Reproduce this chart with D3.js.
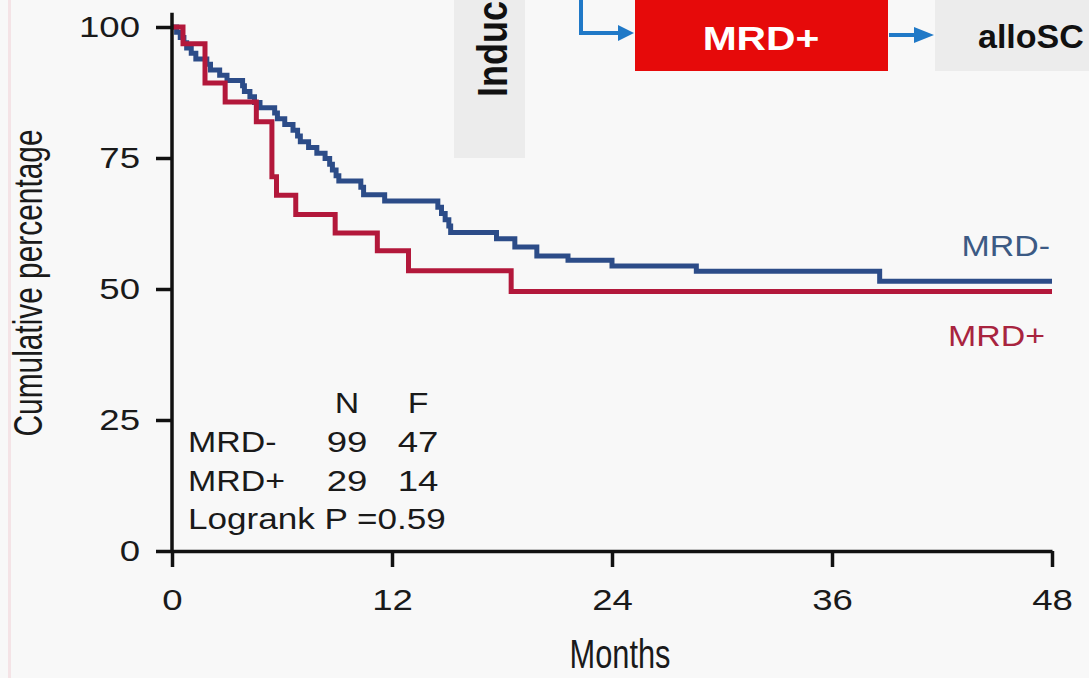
<!DOCTYPE html>
<html>
<head>
    <meta charset="utf-8">
    <script type="text/javascript" src="https://d3js.org/d3.v7.min.js"></script>
    <style>
body {
	margin: 0;
	background: #f8f8f8;
}

svg {
	display: block;
	font-family: "Liberation Sans", Arial, Helvetica, sans-serif;
}

.axis path, .axis line {
	stroke: #111;
	stroke-width: 3.5;
	fill: none;
}

.axis text {
	fill: #1a1a1a;
	font-size: 30px;
	font-family: "Liberation Sans", Arial, sans-serif;
}

.curve {
	fill: none;
	stroke-width: 5;
	stroke-linejoin: miter;
}
    </style>
</head>
<body>
	<svg class="kmGraph" width="1089" height="678"></svg>

    <script type="text/javascript">

	// survival curves (months, percent)
	var mrdNegTimes = [0, 0.25, 0.45, 0.65, 0.8, 1.05, 1.3, 1.9, 2.1, 2.6, 3.0, 3.85, 3.95, 4.25, 4.5, 4.8,
		5.6, 5.75, 6.15, 6.6, 6.85, 7.0, 7.45, 7.9, 8.35, 8.6, 8.75, 8.95, 9.1, 10.3, 10.45, 11.6,
		14.5, 14.7, 14.9, 15.1, 15.2, 17.7, 18.7, 19.9, 21.6, 24.0, 28.6, 38.6, 48];
	var mrdNegValues = [100, 99.0, 98.0, 97.0, 96.0, 95.0, 93.9, 92.9, 91.8, 90.8, 89.8, 88.8, 87.7, 86.7, 85.6, 84.6,
		83.6, 82.5, 81.4, 80.3, 79.2, 78.1, 77.0, 75.9, 74.9, 73.8, 72.7, 71.6, 70.6, 69.4, 68.0, 66.8,
		65.6, 64.4, 63.2, 62.0, 60.8, 59.6, 58.0, 56.3, 55.5, 54.4, 53.4, 51.5, 51.5];

	var mrdPosTimes = [0, 0.6, 1.8, 2.9, 4.6, 5.45, 5.7, 6.75, 8.9, 11.2, 12.9, 18.5, 48];
	var mrdPosValues = [100, 96.8, 89.3, 85.7, 81.9, 71.4, 67.9, 64.2, 60.7, 57.3, 53.5, 49.5, 49.5];

	var xTicks = [0, 12, 24, 36, 48];
	var yTicks = [0, 25, 50, 75, 100];

	var groups = ["MRD-", "MRD+"];
	var nCounts = [99, 29];
	var fCounts = [47, 14];
	var pValue = "0.59";

	var colors = {"MRD-": "#2c4c88", "MRD+": "#b3183b"};
	var labelColors = {"MRD-": "#3c5a84", "MRD+": "#a8243f"};

	var SX = 1.13;     // the frame looks stretched sideways
	var SX_TICK = 1.22;

	var svg = d3.select(".kmGraph");

	svg.append("rect").attr("width", 1089).attr("height", 678).attr("fill", "#f8f8f8");
	svg.append("rect").attr("x", 8).attr("y", 0).attr("width", 3).attr("height", 678).attr("fill", "#f4e3e6");

	function addText(parent, x, y, str, size, anchor, color, weight, sx) {
		return parent.append("text")
			.attr("transform", "translate(" + x + "," + y + ") scale(" + (sx || SX) + ",1)")
			.attr("text-anchor", anchor || "start")
			.attr("font-size", size)
			.attr("font-weight", weight || "normal")
			.attr("fill", color || "#1a1a1a")
			.text(str);
	}

	// pieces of the slide diagram that sit over the plot
	var deco = svg.append("g");
	deco.append("rect").attr("x", 454).attr("y", -5).attr("width", 71).attr("height", 163).attr("fill", "#ececec");
	deco.append("text")
		.attr("transform", "translate(507,97) rotate(-90) scale(1,1.2)")
		.attr("font-size", 36)
		.attr("font-weight", "bold")
		.attr("fill", "#111")
		.text("Induc");

	deco.append("rect").attr("x", 635).attr("y", -5).attr("width", 253).attr("height", 76).attr("fill", "#e60a0a");
	addText(deco, 761, 50, "MRD+", 34, "middle", "#fff", "bold", 1.2);

	deco.append("rect").attr("x", 935).attr("y", -5).attr("width", 160).attr("height", 76).attr("fill", "#ececec");
	deco.append("text")
		.attr("x", 978).attr("y", 48)
		.attr("font-size", 34)
		.attr("font-weight", "bold")
		.attr("fill", "#111")
		.text("alloSC");

	var arrowBlue = "#2079c7";
	deco.append("path")
		.attr("d", "M581,-2 L581,33 L620,33")
		.attr("fill", "none").attr("stroke", arrowBlue).attr("stroke-width", 4);
	deco.append("path").attr("d", "M618,25 L634,33 L618,41 Z").attr("fill", arrowBlue);
	deco.append("path")
		.attr("d", "M889,35 L916,35")
		.attr("fill", "none").attr("stroke", arrowBlue).attr("stroke-width", 4);
	deco.append("path").attr("d", "M914,27 L934,35 L914,43 Z").attr("fill", arrowBlue);

	var margin = {top: 27, left: 172},
		width = 880,
		height = 524;

	var g = svg.append("g").attr("transform", "translate(" + margin.left + "," + margin.top + ")");

	var xScale = d3.scaleLinear()
		.domain([0, 48])
		.range([0, width]);

	var yScale = d3.scaleLinear()
		.domain([0, 100])
		.range([height, 0]);

	var line = d3.line()
		.curve(d3.curveStepAfter)
		.x(function(d) { return xScale(d[0]); })
		.y(function(d) { return yScale(d[1]); });

	var curves = [
		{name: "MRD-", pts: d3.zip(mrdNegTimes, mrdNegValues)},
		{name: "MRD+", pts: d3.zip(mrdPosTimes, mrdPosValues)}
	];

	g.selectAll(".curve")
		.data(curves)
		.enter().append("path")
		.attr("class", "curve")
		.attr("stroke", function(d) { return colors[d.name]; })
		.attr("d", function(d) { return line(d.pts); });

	var xAxis = g.append("g")
		.attr("class", "axis xAxis")
		.attr("transform", "translate(0," + height + ")")
		.call(d3.axisBottom(xScale).tickValues(xTicks).tickSize(16).tickSizeOuter(0).tickPadding(22));
	xAxis.selectAll("text").attr("transform", "scale(" + SX_TICK + ",1)");

	var yAxis = g.append("g")
		.attr("class", "axis yAxis")
		.call(d3.axisLeft(yScale).tickValues(yTicks).tickSize(16).tickSizeOuter(0));
	// let the axis line run a little above 100
	yAxis.select(".domain").attr("d", "M0," + yScale(0) + "V" + yScale(102.7));
	yAxis.selectAll("text")
		.attr("x", -32 / SX_TICK)
		.attr("transform", "scale(" + SX_TICK + ",1)");

	// end labels
	addText(g, xScale(48) - 2, yScale(mrdNegValues[mrdNegValues.length - 1]) - 25, "MRD-", 30, "end", labelColors["MRD-"]);
	addText(g, xScale(48) - 7, yScale(mrdPosValues[mrdPosValues.length - 1]) + 54, "MRD+", 30, "end", labelColors["MRD+"]);

	// N / F table
	var colN = 175, colF = 246, rowH = 38.5;
	addText(g, colN, 386, "N", 30, "middle");
	addText(g, colF, 386, "F", 30, "middle");
	groups.forEach(function(name, i) {
		addText(g, 16, 425 + i * rowH, name, 30, "start");
		addText(g, colN, 425 + i * rowH, nCounts[i], 30, "middle", null, null, SX_TICK);
		addText(g, colF, 425 + i * rowH, fCounts[i], 30, "middle", null, null, SX_TICK);
	});
	addText(g, 16, 502, "Logrank P =" + pValue, 30, "start", null, null, 1.17);

	// axis titles
	svg.append("text")
		.attr("transform", "translate(42,283) rotate(-90)")
		.attr("text-anchor", "middle")
		.attr("font-family", "'Liberation Sans Narrow', 'Arial Narrow', sans-serif")
		.attr("font-size", 40)
		.attr("textLength", 307)
		.attr("lengthAdjust", "spacingAndGlyphs")
		.attr("fill", "#1a1a1a")
		.text("Cumulative percentage");

	svg.append("text")
		.attr("x", 620)
		.attr("y", 668)
		.attr("text-anchor", "middle")
		.attr("font-family", "'Liberation Sans Narrow', 'Arial Narrow', sans-serif")
		.attr("font-size", 40)
		.attr("textLength", 101)
		.attr("lengthAdjust", "spacingAndGlyphs")
		.attr("fill", "#1a1a1a")
		.text("Months");
	</script>
</body>
</html>
